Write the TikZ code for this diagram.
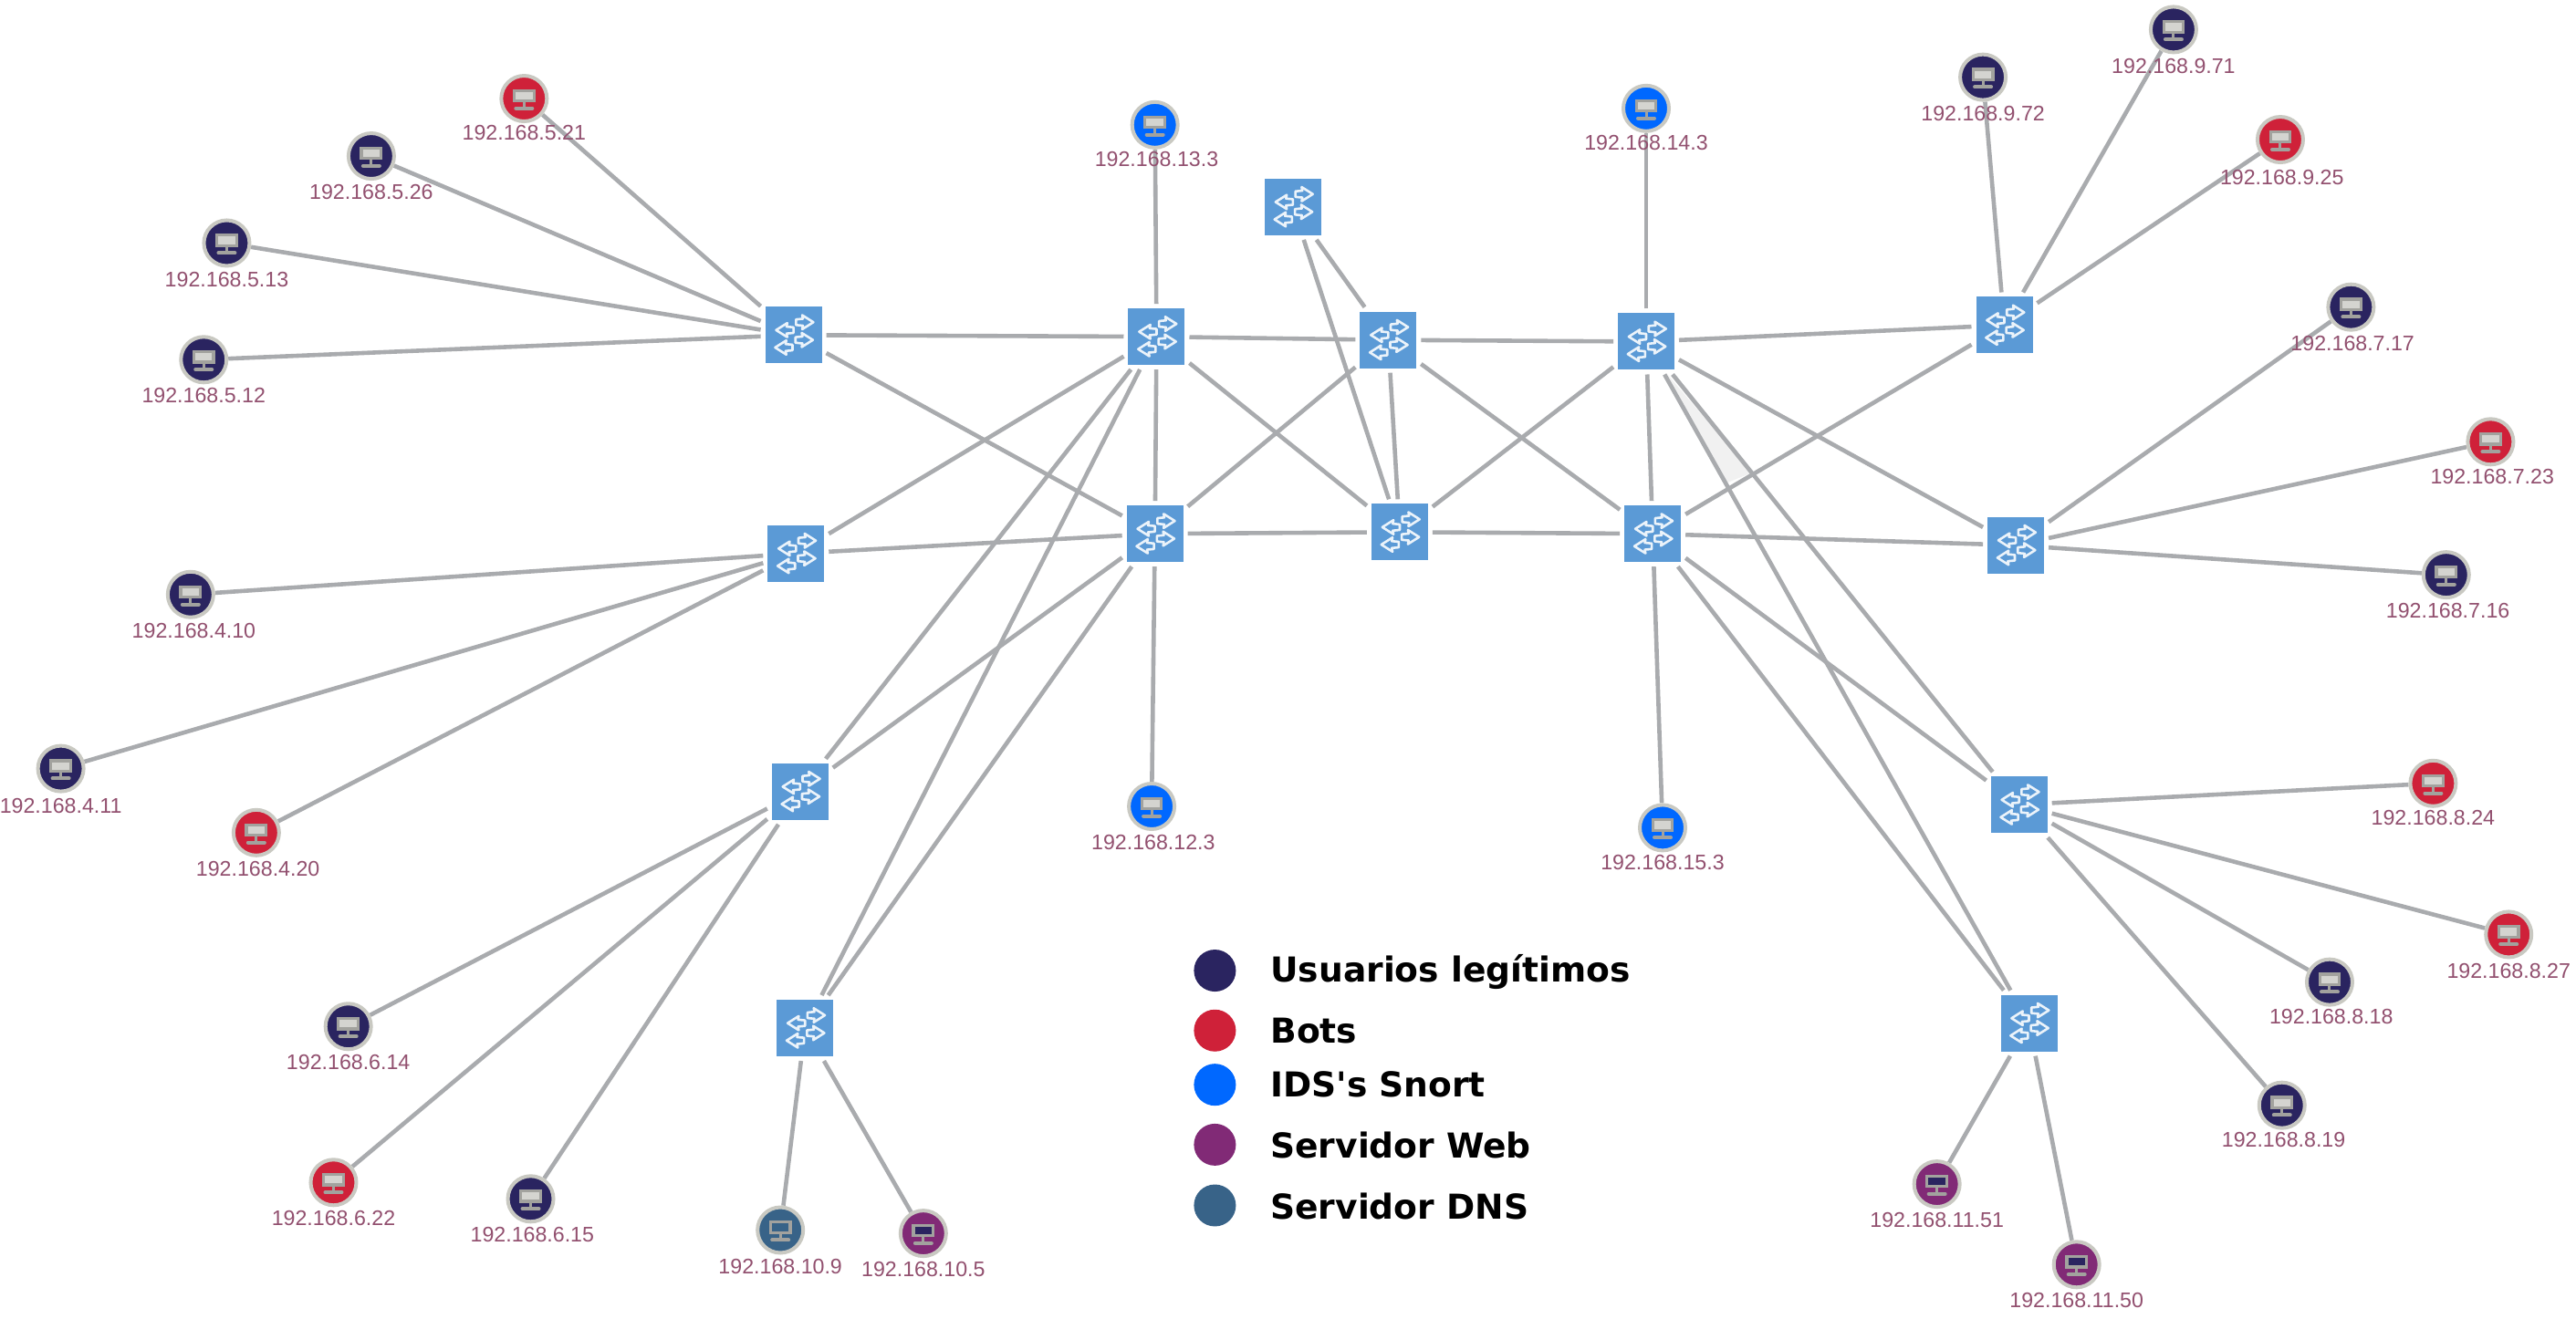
\documentclass[tikz,border=0pt]{standalone}
\usepackage{fontspec}
\setmainfont{Liberation Sans}
\newfontfamily\legendfont{DejaVu Sans}
\usetikzlibrary{backgrounds}
\definecolor{cnavy}{HTML}{2A2460}
\definecolor{cred}{HTML}{CF2139}
\definecolor{cblue}{HTML}{0068FF}
\definecolor{cweb}{HTML}{812A76}
\definecolor{cdns}{HTML}{386388}
\definecolor{cswitch}{HTML}{5B9AD6}
\definecolor{cedge}{HTML}{A9ABAE}
\definecolor{cring}{HTML}{C9C9C2}
\definecolor{cscreen}{HTML}{D4D4D0}
\definecolor{cstand}{HTML}{A2A29E}
\definecolor{clabel}{HTML}{92506F}
\definecolor{cwedge}{HTML}{F1F1F1}
\tikzset{
  swbox/.style={rectangle,fill=cswitch,minimum size=0.62cm,inner sep=0pt,outer sep=0.05cm},
  hostdisk/.style={circle,draw=cring,line width=0.04cm,minimum size=0.50cm,inner sep=0pt,outer sep=0.02cm},
  iplabel/.style={text=clabel,font=\fontsize{6.6}{8}\selectfont,inner sep=0pt},
  legendtext/.style={anchor=base west,inner sep=0pt,font=\legendfont\bfseries\fontsize{10.7}{12}\selectfont},
  legenddot/.style={circle,minimum size=0.46cm,inner sep=0pt},
  edgeline/.style={draw=cedge,line width=0.046cm},
  swicon/.pic={
    \foreach \dx/\dy/\s in {6.5/-7.8/1,6.2/3/1,-5/-3/-1,-5.6/7.6/-1}{
      \draw[white!88!cswitch,line width=0.026cm,line join=round,shift={(\dx,\dy)},xscale=\s]
        (-5,-1.7) -- (-0.8,-2.1) -- (-1.2,-4.3) -- (5.6,0) -- (-1.2,4.3) -- (-0.8,2.1) -- (-5,1.7) -- cycle;
    }
  },
  hosticon/.pic={
    \draw[cstand,line width=0.03cm] (0,1.5) -- (0,5.6);
    \draw[cstand,line width=0.04cm,line cap=round] (-5,6) -- (5,6);
    \draw[draw=cstand,fill=\monfill,line width=0.032cm] (-6,-4.8) rectangle (6,1.5);
  }
}
\newcommand\SW[3]{\node[swbox] (#1) at (#2,#3) {}; \pic at (#1) {swicon};}
\newcommand\HOST[8]{\node[hostdisk,fill=#4] (#1) at (#2,#3) {}; \def\monfill{#5}\pic at (#1) {hosticon}; \node[iplabel] (#1l) at (#7,#8) {#6};}
\begin{document}
\begin{tikzpicture}[x=0.018004cm,y=-0.018004cm]
\useasboundingbox (0,0) rectangle (1568,803);
% switches
\SW{Sa}{483}{204}
\SW{Sb}{704}{205}
\SW{Sc}{484.5}{337}
\SW{Sd}{703}{325}
\SW{Se}{787}{126}
\SW{Sf}{845}{207}
\SW{Sg}{852}{324}
\SW{Sh}{1002}{208}
\SW{Si}{1006}{325}
\SW{Sj}{1220}{198}
\SW{Sk}{1227}{332}
\SW{Sl}{1229}{490}
\SW{Sm}{1235}{623}
\SW{Sn}{487}{482}
\SW{So}{490}{626}
% hosts
\HOST{hA}{319}{60}{cred}{cscreen}{192.168.5.21}{319}{81}
\HOST{hB}{226}{95}{cnavy}{cscreen}{192.168.5.26}{226}{117}
\HOST{hC}{138}{148}{cnavy}{cscreen}{192.168.5.13}{138}{170}
\HOST{hD}{124}{219}{cnavy}{cscreen}{192.168.5.12}{124}{241}
\HOST{hE}{116}{362}{cnavy}{cscreen}{192.168.4.10}{118}{384}
\HOST{hF}{37}{468}{cnavy}{cscreen}{192.168.4.11}{37}{491}
\HOST{hG}{156}{507}{cred}{cscreen}{192.168.4.20}{157}{529}
\HOST{hH}{212}{625}{cnavy}{cscreen}{192.168.6.14}{212}{647}
\HOST{hI}{203}{720}{cred}{cscreen}{192.168.6.22}{203}{742}
\HOST{hJ}{323}{730}{cnavy}{cscreen}{192.168.6.15}{324}{752}
\HOST{hK}{475}{749}{cdns}{cdns}{192.168.10.9}{475}{771}
\HOST{hL}{562}{751}{cweb}{cnavy}{192.168.10.5}{562}{773}
\HOST{hM}{701}{491}{cblue}{cscreen}{192.168.12.3}{702}{513}
\HOST{hN}{703}{76}{cblue}{cscreen}{192.168.13.3}{704}{97}
\HOST{hO}{1002}{66}{cblue}{cscreen}{192.168.14.3}{1002}{87}
\HOST{hP}{1012}{504}{cblue}{cscreen}{192.168.15.3}{1012}{525}
\HOST{hQ}{1207}{47}{cnavy}{cscreen}{192.168.9.72}{1207}{69}
\HOST{hR}{1323}{18}{cnavy}{cscreen}{192.168.9.71}{1323}{40}
\HOST{hS}{1388}{85}{cred}{cscreen}{192.168.9.25}{1389}{108}
\HOST{hT}{1431}{187}{cnavy}{cscreen}{192.168.7.17}{1432}{209}
\HOST{hU}{1516}{269}{cred}{cscreen}{192.168.7.23}{1517}{290}
\HOST{hV}{1489}{350}{cnavy}{cscreen}{192.168.7.16}{1490}{372}
\HOST{hW}{1481}{477}{cred}{cscreen}{192.168.8.24}{1481}{498}
\HOST{hX}{1527}{569}{cred}{cscreen}{192.168.8.27}{1527}{591}
\HOST{hY}{1418}{598}{cnavy}{cscreen}{192.168.8.18}{1419}{619}
\HOST{hZ}{1389}{673}{cnavy}{cscreen}{192.168.8.19}{1390}{694}
\HOST{hAa}{1179}{721}{cweb}{cnavy}{192.168.11.51}{1179}{743}
\HOST{hAb}{1264}{770}{cweb}{cnavy}{192.168.11.50}{1264}{792}
% legend
\node[legenddot,fill=cnavy] (k1) at (739.5,591) {};
\node[legenddot,fill=cred] (k2) at (739.5,627.5) {};
\node[legenddot,fill=cblue] (k3) at (739.5,660.5) {};
\node[legenddot,fill=cweb] (k4) at (739.5,697) {};
\node[legenddot,fill=cdns] (k5) at (739.5,734) {};
\node[legendtext] (t1) at (773,598) {Usuarios legítimos};
\node[legendtext] (t2) at (773,635) {Bots};
\node[legendtext] (t3) at (773,668) {IDS's Snort};
\node[legendtext] (t4) at (773,705) {Servidor Web};
\node[legendtext] (t5) at (773,742.5) {Servidor DNS};
% connectors
\begin{pgfonlayer}{background}
\fill[white] (0,0) rectangle (1568,803);
\fill[cwedge] (1015,228) -- (1051,294) -- (1066,288) -- cycle;
\foreach \a/\b in {Sa/hA,Sa/hB,Sa/hC,Sa/hD,Sa/Sb,Sa/Sd,
  Sb/hN,Sb/Sf,Sb/Sd,Sb/Sg,Sb/Sc,Sb/Sn,Sb/So,
  Sd/Sc,Sd/Sg,Sd/hM,Sd/Sf,Sd/Sn,Sd/So,
  Se/Sf,Se/Sg,Sf/Sh,Sf/Sg,Sf/Si,Sg/Si,Sg/Sh,
  Sh/hO,Sh/Sj,Sh/Si,Sh/Sk,Sh/Sl,Sh/Sm,
  Si/Sj,Si/Sk,Si/Sl,Si/Sm,Si/hP,
  Sj/hQ,Sj/hR,Sj/hS,Sk/hT,Sk/hU,Sk/hV,
  Sl/hW,Sl/hX,Sl/hY,Sl/hZ,Sm/hAa,Sm/hAb,
  Sc/hE,Sc/hF,Sc/hG,Sn/hH,Sn/hI,Sn/hJ,So/hK,So/hL}{
  \draw[edgeline] (\a) -- (\b);
}
\end{pgfonlayer}
\end{tikzpicture}
\end{document}
